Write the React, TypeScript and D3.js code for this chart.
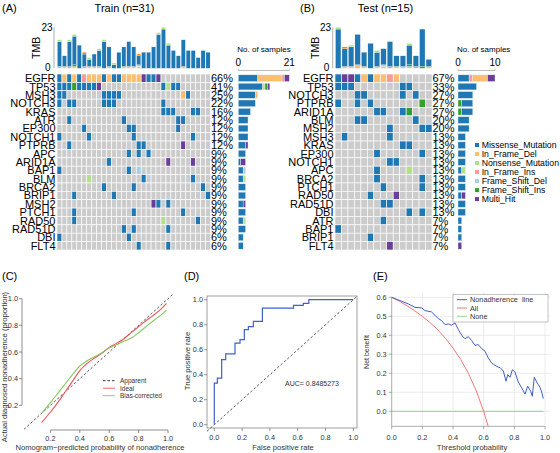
import React from 'react';
import * as d3 from 'd3';

const FONT = '"Liberation Sans", Arial, Helvetica, sans-serif';

// ---------- variant classes ----------
const variantCodes = ['M', 'D', 'N', 'I', 'F', 'S', 'H'];
const variantNames = ['Missense_Mutation', 'In_Frame_Del', 'Nonsense_Mutation', 'In_Frame_Ins', 'Frame_Shift_Del', 'Frame_Shift_Ins', 'Multi_Hit'];
const variantColors = ['#1F78B4', '#FDBF6F', '#B2DF8A', '#FB9A99', '#A6CEE3', '#33A02C', '#6A3D9A'];
const spliceColor = '#FF7F00';
const colorOf = (c: string) => (c === 'X' ? spliceColor : variantColors[variantCodes.indexOf(c)]);

// ---------- TRAIN ----------
const trainGenes = ['EGFR', 'TP53', 'MSH3', 'NOTCH3', 'KRAS', 'ATR', 'EP300', 'NOTCH1', 'PTPRB', 'APC', 'ARID1A', 'BAP1', 'BLM', 'BRCA2', 'BRIP1', 'MSH2', 'PTCH1', 'RAD50', 'RAD51D', 'DBI', 'FLT4'];
const trainPct = ['66%', '41%', '25%', '22%', '16%', '12%', '12%', '12%', '12%', '9%', '9%', '9%', '9%', '9%', '9%', '9%', '9%', '9%', '9%', '6%', '6%'];
const trainMutations = [
  '0M 1D 2M 3D 4M 5I 6D 7D 8D 9M 10D 11M 12M 13D 14D 15D 16D 17H 18M 19M 20H',
  '0M 1M 2M 3S 4M 5M 6M 7M 8H 21M 22N 23M 24M',
  '0M 1M 9M 10M 11M 12M 25D 26M',
  '0M 2M 3M 9M 10M 11M 21M',
  '21M 22M 23M 27M 28M',
  '2M 13M 24M 25M',
  '5M 14M 15M 24M',
  '0M 6M 15M 27M',
  '2M 16M 17M 25H',
  '14M 16M 18M',
  '10M 22H 27H',
  '0M 14M 16F',
  '6N 17M 27M',
  '9M 15M 29M',
  '3M 11M 30M',
  '19H 20M 22M',
  '3M 15M 25M',
  '3M 21N 28M',
  '13M 15M 22M',
  '0M 14M',
  '16M 22M',
];
const trainSideOrder = ['M', 'D', 'I', 'N', 'S', 'F', 'H'];
const trainTmbInFrameDel = [0, 1, 0, 1, 0, 0, 1, 1, 1, 0, 1, 0, 0, 1, 1, 1, 1, 0, 0, 0, 0, 0, 0, 0, 0, 1, 0, 0, 0, 0, 0];
const trainTmbInFrameIns = [0, 0, 1, 0, 0, 1, 0, 0, 0, 0, 0, 0, 0, 0, 0, 0, 0, 0, 0, 0, 0, 0, 0, 0, 0, 0, 0, 0, 0, 0, 0];
const trainTmbFSDel = [1, 0, 0, 0, 0, 0, 0, 0, 0, 0, 0, 0, 0, 0, 0, 0, 1, 0, 0, 0, 0, 0, 0, 0, 0, 0, 0, 0, 0, 0, 0];
const trainTmbFSIns = [0, 0, 0, 1, 0, 0, 0, 0, 0, 0, 0, 0, 0, 0, 0, 0, 0, 0, 0, 0, 0, 0, 0, 0, 0, 0, 0, 0, 0, 0, 0];
const trainTmbMissense = [14, 6, 14, 16, 13, 7, 4, 7, 9, 15, 11, 2, 9, 11, 14, 11, 5, 9, 9, 12, 19, 22, 13, 10, 7, 15, 10, 10, 6, 10, 9];
const trainTmbNonsense = [1, 0, 1, 1, 0, 0, 1, 0, 1, 1, 0, 1, 0, 0, 0, 0, 0, 0, 0, 0, 1, 1, 1, 0, 0, 0, 0, 0, 0, 0, 0];
const trainTmbSplice = [0, 0, 0, 0, 0, 1, 0, 0, 0, 0, 0, 0, 0, 0, 0, 0, 1, 0, 0, 0, 0, 0, 0, 0, 0, 0, 0, 0, 0, 0, 0];

// ---------- TEST ----------
const testGenes = ['EGFR', 'TP53', 'NOTCH3', 'PTPRB', 'ARID1A', 'BLM', 'MSH2', 'MSH3', 'KRAS', 'EP300', 'NOTCH1', 'APC', 'BRCA2', 'PTCH1', 'RAD50', 'RAD51D', 'DBI', 'ATR', 'BAP1', 'BRIP1', 'FLT4'];
const testPct = ['67%', '33%', '27%', '27%', '27%', '20%', '20%', '13%', '13%', '13%', '13%', '13%', '13%', '13%', '13%', '13%', '13%', '7%', '7%', '7%', '7%'];
const testMutations = [
  '0M 1H 2H 3M 4D 5M 6D 7D 8I 9D',
  '0M 1M 2M 10M 11M',
  '3M 4M 10M 12M',
  '0M 3M 5M 13S',
  '6M 7M 10M 11S',
  '3M 4M 12M',
  '8M 13M 14M',
  '1M 8M',
  '10M 11M',
  '6M 13M',
  '8M 9M',
  '6M 11N',
  '6M 13M',
  '7M 13M',
  '5M 9H',
  '7M 8M',
  '11M 13M',
  '7M',
  '0M',
  '5M',
  '8H',
];
const testSideOrder = ['S', 'M', 'I', 'D', 'N', 'F', 'H'];
const testTmbInFrameDel = [0, 1, 1, 2, 1, 0, 1, 1, 0, 1, 0, 0, 0, 0, 1];
const testTmbInFrameIns = [0, 0, 0, 0, 0, 0, 0, 0, 1, 0, 0, 0, 1, 0, 0];
const testTmbFSDel = [0, 0, 0, 0, 0, 0, 0, 1, 0, 0, 1, 1, 0, 0, 0];
const testTmbFSIns = [0, 0, 0, 0, 0, 0, 0, 0, 0, 0, 0, 1, 0, 1, 0];
const testTmbMissense = [22, 10, 11, 17, 8, 14, 8, 9, 14, 6, 6, 11, 6, 21, 4];
const testTmbNonsense = [1, 0, 1, 0, 0, 0, 1, 0, 0, 0, 0, 1, 0, 0, 0];
const testTmbSplice = [0, 1, 0, 0, 0, 0, 0, 0, 0, 0, 0, 0, 0, 0, 0];

const tmbMax = 23;

// ---------- Panel C (calibration) ----------
const calX = [0.14, 0.2, 0.25, 0.3, 0.35, 0.4, 0.45, 0.5, 0.55, 0.6, 0.65, 0.7, 0.75, 0.8, 0.85, 0.9, 0.95, 0.99];
const calIdeal = [0.07, 0.15, 0.22, 0.3, 0.38, 0.46, 0.515, 0.555, 0.59, 0.635, 0.665, 0.7, 0.745, 0.79, 0.835, 0.875, 0.92, 0.965];
const calBias = [0.14, 0.22, 0.29, 0.36, 0.43, 0.495, 0.535, 0.565, 0.595, 0.63, 0.655, 0.68, 0.705, 0.745, 0.79, 0.835, 0.875, 0.915];
const calApparent = [[0.02, 0.02], [1.03, 1.03]];
const calTicks = [0.2, 0.4, 0.6, 0.8, 1.0];

// ---------- Panel D (ROC) ----------
const rocFpr = [0, 0, 0.022, 0.053, 0.082, 0.149, 0.185, 0.216, 0.245, 0.281, 0.346, 0.57, 0.64, 0.68, 1];
const rocTpr = [0, 0.333, 0.373, 0.52, 0.566, 0.653, 0.68, 0.76, 0.785, 0.827, 0.933, 0.955, 0.97, 1, 1];
const rocTicks = [0, 0.2, 0.4, 0.6, 0.8, 1.0];
const aucText = 'AUC= 0.8485273';

// ---------- Panel E (decision curve) ----------
const nbThreshold = [0, 0.109, 0.152, 0.196, 0.217, 0.26, 0.283, 0.304, 0.326, 0.348, 0.37, 0.39, 0.413, 0.435, 0.457, 0.478, 0.5, 0.522, 0.543, 0.565, 0.587, 0.609, 0.63, 0.652, 0.674, 0.696, 0.707, 0.728, 0.746, 0.757, 0.772, 0.787, 0.804, 0.826, 0.848, 0.87, 0.887, 0.907, 0.917, 0.93, 0.946, 0.957, 0.967, 0.978, 0.989];
const nbModel = [0.6, 0.565, 0.547, 0.544, 0.53, 0.523, 0.505, 0.488, 0.477, 0.456, 0.46, 0.453, 0.465, 0.43, 0.4, 0.382, 0.393, 0.372, 0.347, 0.351, 0.33, 0.316, 0.281, 0.254, 0.242, 0.232, 0.23, 0.212, 0.158, 0.193, 0.179, 0.219, 0.207, 0.154, 0.123, 0.091, 0.132, 0.105, 0.079, 0.179, 0.154, 0.14, 0.126, 0.102, 0.067];
const nbAllT = [0, 0.05, 0.1, 0.15, 0.2, 0.25, 0.3, 0.35, 0.4, 0.45, 0.5, 0.55, 0.6, 0.63];
const nbAll = [0.6, 0.579, 0.556, 0.529, 0.5, 0.467, 0.429, 0.385, 0.333, 0.273, 0.2, 0.111, 0.0, -0.08];
const nbNoneT = [0, 0.99];
const nbNone = [0, 0];
const dcaYTicks = [0, 0.1, 0.2, 0.3, 0.4, 0.5, 0.6];
const dcaXTicks = [0, 0.2, 0.4, 0.6, 0.8, 1.0];

// ---------- layout ----------
const GRID_TOP = 74;
const ROW_H = 8.38;
const TMB_TOP = 27.3;
const TMB_BOTTOM = 68.3;

function parseMut(s: string) {
  return s.split(' ').filter(Boolean).map((t) => ({ col: parseInt(t, 10), code: t.replace(/[0-9]/g, '') }));
}

function Oncoplot(p: any) {
  const n = p.n;
  const xs = d3.scaleBand<number>().domain(d3.range(n)).range([p.gx0, p.gx1]);
  const ys = d3.scaleBand<string>().domain(p.genes).range([GRID_TOP, GRID_TOP + p.genes.length * ROW_H]);
  const yT = d3.scaleLinear().domain([0, tmbMax]).range([TMB_BOTTOM, TMB_TOP]);
  const xSide = d3.scaleLinear().domain([0, p.sideMax]).range([p.sx0, p.sx1]);
  const bw = xs.bandwidth();
  const rowsParsed = p.muts.map(parseMut);
  const fs = 11;
  return (
    <g>
      <text x={p.tagX} y={12} fontSize={11}>{p.tag}</text>
      <text x={p.titleX} y={12} fontSize={11} textAnchor="middle">{p.title}</text>
      {/* TMB axis */}
      <text transform={`translate(${p.tmbAxisX - 14},${(TMB_TOP + TMB_BOTTOM) / 2}) rotate(-90)`} fontSize={10.5} textAnchor="middle">TMB</text>
      <line x1={p.tmbAxisX} x2={p.tmbAxisX} y1={yT(tmbMax)} y2={yT(0)} stroke="#9a9a9a" strokeWidth={0.8} />
      <text x={p.tmbAxisX - 1.5} y={yT(tmbMax) + 3.5} fontSize={10} textAnchor="end">{tmbMax}</text>
      <text x={p.tmbAxisX - 3.5} y={yT(0) + 3} fontSize={10} textAnchor="end">0</text>
      {/* TMB bars */}
      {d3.range(n).map((c) => {
        let acc = 0;
        return p.tmb.map((s: any, k: number) => {
          const v = s.values[c];
          if (!v) return null;
          const y0 = yT(acc);
          acc += v;
          const y1 = yT(acc);
          return <rect key={`t${c}-${k}`} x={(xs(c) as number) + bw * 0.08} width={bw * 0.84} y={y1} height={y0 - y1} fill={colorOf(s.code)} stroke="#ffffff" strokeWidth={0.25} />;
        });
      })}
      {/* grid */}
      {p.genes.map((g: string, r: number) => {
        const codes: Record<number, string> = {};
        rowsParsed[r].forEach((m: any) => { codes[m.col] = m.code; });
        return d3.range(n).map((c) => (
          <rect key={`c${r}-${c}`} x={xs(c)} y={ys(g)} width={bw} height={ys.bandwidth()}
            fill={codes[c] ? colorOf(codes[c]) : '#CCCCCC'} stroke="#ffffff" strokeWidth={0.6} />
        ));
      })}
      {/* gene labels + pct */}
      {p.genes.map((g: string, r: number) => (
        <g key={`l${g}`}>
          <text x={p.gx0 - 1.5} y={(ys(g) as number) + ROW_H / 2 + fs * 0.36} fontSize={fs} textAnchor="end">{g}</text>
          <text x={p.pctX} y={(ys(g) as number) + ROW_H / 2 + fs * 0.36} fontSize={fs}>{p.pct[r]}</text>
        </g>
      ))}
      {/* side bars */}
      <text x={p.sx0 - 1} y={51.5} fontSize={8}>No. of samples</text>
      <text x={xSide(0)} y={66} fontSize={10} textAnchor="middle">0</text>
      <text x={xSide(p.sideMax)} y={66} fontSize={10} textAnchor="middle">{p.sideMax}</text>
      <line x1={xSide(0)} x2={xSide(p.sideMax)} y1={70.5} y2={70.5} stroke="#aaaaaa" strokeWidth={0.8} />
      <line x1={xSide(0)} x2={xSide(0)} y1={68.5} y2={70.5} stroke="#aaaaaa" strokeWidth={0.8} />
      <line x1={xSide(p.sideMax)} x2={xSide(p.sideMax)} y1={68.5} y2={70.5} stroke="#aaaaaa" strokeWidth={0.8} />
      {p.genes.map((g: string, r: number) => {
        const counts: Record<string, number> = {};
        rowsParsed[r].forEach((m: any) => { counts[m.code] = (counts[m.code] || 0) + 1; });
        let acc = 0;
        return p.sideOrder.map((code: string) => {
          const v = counts[code] || 0;
          if (!v) return null;
          const x0 = xSide(acc);
          acc += v;
          return <rect key={`s${g}-${code}`} x={x0} width={xSide(acc) - x0} y={(ys(g) as number) + ROW_H * 0.1} height={ROW_H * 0.8} fill={colorOf(code)} stroke="#e8eef4" strokeWidth={0.4} />;
        });
      })}
      {p.legend && variantNames.map((nm, i) => (
        <g key={nm}>
          <rect x={475} y={145 + i * 9.02 - 2} width={4} height={4} fill={variantColors[i]} />
          <text x={481.7} y={145 + i * 9.02 + 3} fontSize={8.7}>{nm}</text>
        </g>
      ))}
    </g>
  );
}

function makeTmb(dfd: number[], ifi: number[], fsd: number[], fsi: number[], mis: number[], non: number[], spl: number[]) {
  return [
    { code: 'D', values: dfd },
    { code: 'I', values: ifi },
    { code: 'F', values: fsd },
    { code: 'S', values: fsi },
    { code: 'M', values: mis },
    { code: 'N', values: non },
    { code: 'X', values: spl },
  ];
}

function PanelC() {
  const x = d3.scaleLinear().domain([0, 1]).range([21, 168]);
  const y = d3.scaleLinear().domain([0, 1]).range([432, 298.7]);
  const line = d3.line<number>().x((_, i) => x(calX[i])).y((d) => y(d)).curve(d3.curveMonotoneX);
  const ax = 22, ay = 430;
  const fs = 7.3;
  return (
    <g>
      <text x={2} y={280} fontSize={11}>(C)</text>
      <line x1={x(calApparent[0][0])} y1={y(calApparent[0][1])} x2={x(calApparent[1][0])} y2={y(calApparent[1][1])} stroke="#333" strokeWidth={0.8} strokeDasharray="2.5,2" />
      <path d={line(calIdeal) || ''} fill="none" stroke="#F0545C" strokeWidth={1.1} />
      <path d={line(calBias) || ''} fill="none" stroke="#86C95A" strokeWidth={1.1} />
      <line x1={x(0.2)} x2={x(1)} y1={ay} y2={ay} stroke="#444" strokeWidth={0.6} />
      <line x1={ax} x2={ax} y1={y(0.2)} y2={y(1)} stroke="#444" strokeWidth={0.6} />
      {calTicks.map((t) => (
        <g key={t}>
          <line x1={x(t)} x2={x(t)} y1={ay} y2={ay + 3} stroke="#444" strokeWidth={0.6} />
          <text x={x(t)} y={ay + 11} fontSize={fs} textAnchor="middle" fill="#333">{t.toFixed(1)}</text>
          <line x1={ax - 3} x2={ax} y1={y(t)} y2={y(t)} stroke="#444" strokeWidth={0.6} />
          <text x={ax - 4} y={y(t) + 2.6} fontSize={fs} textAnchor="end" fill="#333">{t.toFixed(1)}</text>
        </g>
      ))}
      <text x={100} y={450} fontSize={7.6} textAnchor="middle" fill="#333">Nomogram−predicted probability of nonadherence</text>
      <text transform={`translate(7,367) rotate(-90)`} fontSize={7.6} textAnchor="middle" fill="#333">Actual diagnosed nonadherence (proportion)</text>
      {/* legend */}
      <line x1={103} x2={115} y1={380.7} y2={380.7} stroke="#222" strokeWidth={0.9} strokeDasharray="2.5,2" />
      <text x={120} y={383} fontSize={6.5} fill="#333">Apparent</text>
      <line x1={103} x2={115} y1={388.2} y2={388.2} stroke="#F0545C" strokeWidth={0.9} />
      <text x={120} y={390.5} fontSize={6.5} fill="#333">Ideal</text>
      <line x1={103} x2={115} y1={395.7} y2={395.7} stroke="#86C95A" strokeWidth={0.9} />
      <text x={120} y={398} fontSize={6.5} fill="#333">Bias-corrected</text>
    </g>
  );
}

function PanelD() {
  const x = d3.scaleLinear().domain([0, 1]).range([214.3, 353.3]);
  const y = d3.scaleLinear().domain([0, 1]).range([424.7, 299.7]);
  const bx0 = 207, bx1 = 357, by0 = 296, by1 = 428;
  const line = d3.line<number>().x((d) => x(d)).y((_, i) => y(rocTpr[i])).curve(d3.curveStepAfter);
  const fs = 7.3;
  const d0 = x.invert(bx0), d1 = x.invert(bx1);
  return (
    <g>
      <text x={184} y={280} fontSize={11}>(D)</text>
      <rect x={bx0} y={by0} width={bx1 - bx0} height={by1 - by0} fill="none" stroke="#777" strokeWidth={0.7} />
      <line x1={x(d0)} y1={y(d0 * (by1 - by0) / (bx1 - bx0) * 0 + d0)} x2={x(d1)} y2={y(d1)} stroke="#333" strokeWidth={0.8} strokeDasharray="2.5,2" />
      <path d={line(rocFpr) || ''} fill="none" stroke="#3E62C8" strokeWidth={1.2} />
      {rocTicks.map((t) => (
        <g key={t}>
          <line x1={x(t)} x2={x(t)} y1={by1} y2={by1 + 3} stroke="#555" strokeWidth={0.6} />
          <text x={x(t)} y={by1 + 12} fontSize={fs} textAnchor="middle" fill="#333">{t.toFixed(1)}</text>
          <line x1={bx0 - 3} x2={bx0} y1={y(t)} y2={y(t)} stroke="#555" strokeWidth={0.6} />
          <text x={bx0 - 4} y={y(t) + 2.6} fontSize={fs} textAnchor="end" fill="#333">{t.toFixed(1)}</text>
        </g>
      ))}
      <text x={283} y={450} fontSize={7.6} textAnchor="middle" fill="#333">False positive rate</text>
      <text transform={`translate(189.5,361) rotate(-90)`} fontSize={7.6} textAnchor="middle" fill="#333">True positive rate</text>
      <text x={285} y={386} fontSize={7} fill="#333">{aucText}</text>
    </g>
  );
}

function PanelE() {
  const x = d3.scaleLinear().domain([0, 1]).range([391.7, 545]);
  const y = d3.scaleLinear().domain([0, 0.6]).range([411.3, 297.3]);
  const yBottom = 426.3;
  const xRight = 550;
  const mk = (ts: number[]) => d3.line<number>().x((_, i) => x(ts[i])).y((d) => y(d));
  const fs = 7.3;
  return (
    <g>
      <text x={373} y={280} fontSize={11}>(E)</text>
      <defs>
        <clipPath id="eclip"><rect x={385} y={290} width={170} height={yBottom - 290} /></clipPath>
      </defs>
      {dcaYTicks.map((t) => (
        <line key={`gy${t}`} x1={x(0)} x2={xRight} y1={y(t)} y2={y(t)} stroke="#e4e4e4" strokeWidth={0.7} />
      ))}
      {dcaXTicks.filter((t) => t > 0).map((t) => (
        <line key={`gx${t}`} x1={x(t)} x2={x(t)} y1={292} y2={yBottom} stroke="#e4e4e4" strokeWidth={0.7} />
      ))}
      <g clipPath="url(#eclip)">
        <path d={mk(nbNoneT)(nbNone) || ''} fill="none" stroke="#93D493" strokeWidth={1} />
        <path d={mk(nbAllT)(nbAll) || ''} fill="none" stroke="#F27878" strokeWidth={1} />
        <path d={mk(nbThreshold)(nbModel) || ''} fill="none" stroke="#3F5FC2" strokeWidth={1} />
      </g>
      <line x1={x(0)} x2={x(0)} y1={y(0.6)} y2={yBottom} stroke="#777" strokeWidth={0.6} />
      <line x1={x(0)} x2={x(1)} y1={yBottom} y2={yBottom} stroke="#777" strokeWidth={0.6} />
      {dcaYTicks.map((t) => (
        <g key={`ty${t}`}>
          <line x1={x(0) - 3} x2={x(0)} y1={y(t)} y2={y(t)} stroke="#777" strokeWidth={0.6} />
          <text x={x(0) - 5} y={y(t) + 2.6} fontSize={fs} textAnchor="end" fill="#333">{t.toFixed(1)}</text>
        </g>
      ))}
      {dcaXTicks.map((t) => (
        <g key={`tx${t}`}>
          <line x1={x(t)} x2={x(t)} y1={yBottom} y2={yBottom + 3} stroke="#777" strokeWidth={0.6} />
          <text x={x(t)} y={yBottom + 14} fontSize={fs} textAnchor="middle" fill="#333">{t.toFixed(1)}</text>
        </g>
      ))}
      <text x={472} y={450} fontSize={7.6} textAnchor="middle" fill="#333">Threshold probability</text>
      <text transform={`translate(368.5,352) rotate(-90)`} fontSize={7} textAnchor="middle" fill="#333">Net benefit</text>
      {/* legend */}
      <rect x={453} y={294.5} width={95} height={27.5} fill="#ffffff" stroke="#999" strokeWidth={0.6} />
      <line x1={457} x2={467} y1={299.7} y2={299.7} stroke="#3F5FC2" strokeWidth={1} />
      <text x={470} y={302.3} fontSize={7.3} fill="#333" style={{ whiteSpace: 'pre' }}>{'Nonadherence  line'}</text>
      <line x1={457} x2={467} y1={308} y2={308} stroke="#F27878" strokeWidth={1} />
      <text x={470} y={310.6} fontSize={7.3} fill="#333">All</text>
      <line x1={457} x2={467} y1={316.3} y2={316.3} stroke="#93D493" strokeWidth={1} />
      <text x={470} y={318.9} fontSize={7.3} fill="#333">None</text>
    </g>
  );
}

export default function App() {
  const trainTmb = makeTmb(trainTmbInFrameDel, trainTmbInFrameIns, trainTmbFSDel, trainTmbFSIns, trainTmbMissense, trainTmbNonsense, trainTmbSplice);
  const testTmb = makeTmb(testTmbInFrameDel, testTmbInFrameIns, testTmbFSDel, testTmbFSIns, testTmbMissense, testTmbNonsense, testTmbSplice);
  return (
    <svg width={560} height={453} style={{ position: 'absolute', left: 0, top: 0, background: '#ffffff' }} fontFamily={FONT}>
      <rect x={0} y={0} width={560} height={453} fill="#ffffff" />
      <Oncoplot tag="(A)" tagX={2} title="Train (n=31)" titleX={124.5} genes={trainGenes} pct={trainPct} muts={trainMutations}
        n={31} gx0={57} gx1={210.5} tmb={trainTmb} tmbAxisX={54} pctX={211} sx0={238.3} sx1={289.3} sideMax={21}
        sideOrder={trainSideOrder} legend={false} />
      <Oncoplot tag="(B)" tagX={300} title="Test (n=15)" titleX={385.5} genes={testGenes} pct={testPct} muts={testMutations}
        n={15} gx0={335} gx1={432} tmb={testTmb} tmbAxisX={332.7} pctX={432.5} sx0={458} sx1={495} sideMax={10}
        sideOrder={testSideOrder} legend={true} />
      <PanelC />
      <PanelD />
      <PanelE />
    </svg>
  );
}
